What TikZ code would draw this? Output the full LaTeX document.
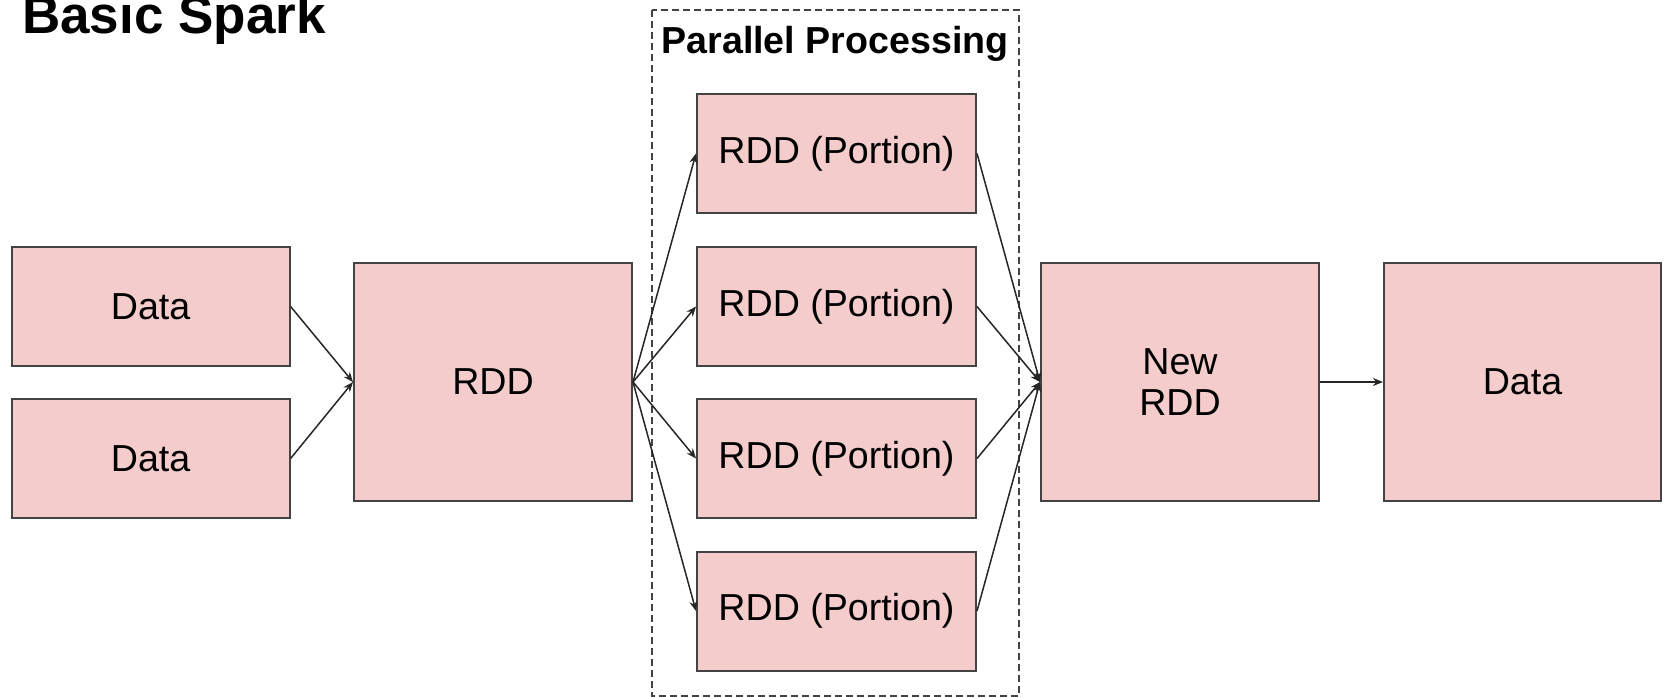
\documentclass[tikz,border=0pt]{standalone}
\usepackage{fontspec}
\setmainfont{Liberation Sans}
\usetikzlibrary{arrows.meta}
\definecolor{boxpink}{HTML}{F4CCCC}
\definecolor{boxline}{HTML}{434343}

\begin{document}
\begin{tikzpicture}[x=1pt,y=-1pt,
  box/.style={draw=boxline,fill=boxpink,line width=2pt,minimum width=278pt,minimum height=119pt,inner sep=0pt,font=\fontsize{37.6}{40.5}\selectfont,align=center},
  bigbox/.style={box,minimum height=238pt},
  conn/.style={draw=black!85,line width=1.5pt,-{Stealth[length=10pt,width=8pt]}}]
  \useasboundingbox (0,0) rectangle (1669,697);
  \node[anchor=base west,inner sep=0pt,font=\fontsize{53}{60}\selectfont\bfseries] (title) at (22,33) {Basic Spark};
  % Rahmen
  \draw[boxline,line width=1.5pt,dash pattern=on 7pt off 4pt] (652,10) rectangle (1019,696);
  \node[font=\fontsize{37.6}{40.5}\selectfont\bfseries] (par) at (835,44) {Parallel Processing};
  \node[box] (data1) at (150.6,306.5) {Data};
  \node[box] (data2) at (150.6,458.5) {Data};
  \node[bigbox] (rdd) at (493,382) {RDD};
  \foreach \i/\y in {1/153.5,2/306.5,3/458.5,4/611}
    \node[box,minimum width=279pt] (p\i) at (836.5,\y) {RDD (Portion)};
  \node[bigbox] (new) at (1180,382) {New\\RDD};
  \node[bigbox,minimum width=277pt] (data3) at (1522.5,382) {Data};
  % Pfeile
  \foreach \a in {data1,data2}
    \draw[conn] (\a.east) -- (rdd.west);
  \foreach \i in {1,...,4}{
    \draw[conn] (rdd.east) -- (p\i.west);
    \draw[conn] (p\i.east) -- (new.west);
  }
  \draw[conn] (new.east) -- (data3.west);
\end{tikzpicture}
\end{document}
